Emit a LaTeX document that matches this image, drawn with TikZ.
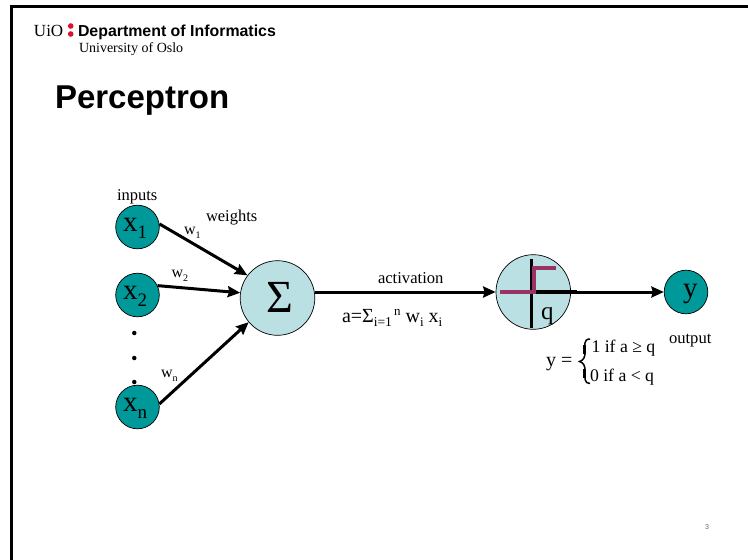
\documentclass[tikz,border=0pt]{standalone}
\usepackage{fontspec}
\setmainfont{Liberation Serif}
\newfontfamily\arialf{Liberation Sans}
\usetikzlibrary{arrows.meta}
\newcommand{\fs}[1]{\fontsize{#1}{#1}\selectfont}
\newcommand{\subb}[3]{\raisebox{-#2pt}{\fs{#1}#3}}
\definecolor{tealc}{HTML}{009999}
\definecolor{lightc}{HTML}{BBE0E3}
\definecolor{stepc}{HTML}{993366}
\definecolor{redc}{HTML}{E0102F}
\tikzset{
  inp/.style={circle,draw=black,line width=0.7pt,fill=tealc,minimum size=43.6pt,inner sep=0pt},
  unit/.style={circle,draw=black,line width=0.7pt,fill=lightc,minimum size=74.6pt,inner sep=0pt},
  lab/.style={anchor=base west,inner sep=0pt,outer sep=0pt,text=black},
  conn/.style={line width=3pt,-{Stealth[inset=1.5pt,length=12.5pt,width=11pt]}},
  dotn/.style={circle,fill=black,minimum size=4.5pt,inner sep=0pt},
  reddot/.style={circle,fill=redc,minimum size=5.6pt,inner sep=0pt},
  frameline/.style={line width=3pt,black,line cap=butt}
}
\begin{document}
\begin{tikzpicture}[x=1pt,y=-1pt]
\useasboundingbox (0,0) rectangle (748,560);
\fill[white] (0,0) rectangle (748,560);
% frame
\draw[frameline] (11.5,560) -- (11.5,6.5) -- (748,6.5);
% header
\node[lab,font=\fs{17}] (uio) at (34,36) {UiO};
\node[reddot] (rd1) at (70.7,26) {};
\node[reddot] (rd2) at (70.7,34) {};
\node[lab,font=\arialf\bfseries\fs{15.9}] (dept) at (78,36) {Department of Informatics};
\node[lab,font=\fs{14}] (uni) at (79,52) {University of Oslo};
\node[lab,font=\arialf\bfseries\fs{33}] (title) at (55,108) {Perceptron};
% nodes
\node[inp] (x1) at (137.5,227) {};
\node[inp] (x2) at (137.5,295) {};
\node[inp] (xn) at (137.5,407) {};
\node[unit] (sum) at (277.5,298) {};
\node[unit] (th) at (533.3,292) {};
\node[inp] (y) at (686,292) {};
% node texts
\node[lab,font=\fs{29}] (tx1) at (123,231) {x\subb{19}{7}{1}};
\node[lab,font=\fs{29}] (tx2) at (123,299) {x\subb{19}{7}{2}};
\node[lab,font=\fs{29}] (txn) at (123,411) {x\subb{19}{7}{n}};
\node[lab,font=\fs{46}] (tsum) at (266,312) {Σ};
\node[lab,font=\fs{29}] (ty) at (683,297) {y};
% connectors
\draw[conn] (x1.8) -- (sum.143);
\draw[conn] (x2.25) -- (sum.172);
\draw[conn] (xn.8) -- (sum.220);
\draw[conn] (sum.east |- th.west) -- (th.west);
\draw[line width=3.6pt] (532,292) -- (577,292);
\draw[conn] (th.east) -- (y.west);
% step symbol
\draw[line width=3pt] (531.7,259) -- (531.7,328);
\draw[stepc,line width=4pt] (500,292) -- (533.5,292) -- (533.5,267.5) -- (556,267.5);
\node[lab,font=\fs{25}] (tq) at (541,319) {q};
% dots
\node[dotn] (d1) at (134.3,333) {};
\node[dotn] (d2) at (134.3,358) {};
\node[dotn] (d3) at (134.3,382) {};
% labels
\node[lab,font=\fs{16.5}] (inputs) at (117,200) {inputs};
\node[lab,font=\fs{16.5}] (weights) at (206,221) {weights};
\node[lab,font=\fs{16}] (w1) at (184,234) {w\subb{10}{4.5}{1}};
\node[lab,font=\fs{16}] (w2) at (171.5,277) {w\subb{10}{4.5}{2}};
\node[lab,font=\fs{16}] (wn) at (161,377) {w\subb{10}{4.5}{n}};
\node[lab,font=\fs{16.6}] (act) at (378,283.5) {activation};
\node[lab,font=\fs{20}] (form) at (342,322) {a=Σ\raisebox{-4pt}{\fs{13.5}i=1}\raisebox{7pt}{\fs{13}\,n} w\raisebox{-4pt}{\fs{13}i} x\raisebox{-4pt}{\fs{13}i}};
\node[lab,font=\fs{16.6}] (out) at (669,343) {output};
\node[lab,font=\fs{20}] (yeq) at (546,366.5) {y =};
\node[lab,font=\fs{17.7}] (l1) at (591.5,352) {1 if a ≥ q};
\node[lab,font=\fs{17.7}] (l2) at (590,381.5) {0 if a < q};
\draw[line width=1.5pt] (590,339) .. controls (583,339) and (585,346) .. (585,352) .. controls (585,357) and (584,360) .. (579.5,361.5) .. controls (584,363) and (585,366) .. (585,371) .. controls (585,378) and (584,383.5) .. (590,383.5);
\draw[line width=3pt] (584.8,345) -- (584.8,354) (584.8,369) -- (584.8,378);
\node[lab,font=\arialf\fs{7},text=black!60] (pg) at (705,529) {3};
\end{tikzpicture}
\end{document}
